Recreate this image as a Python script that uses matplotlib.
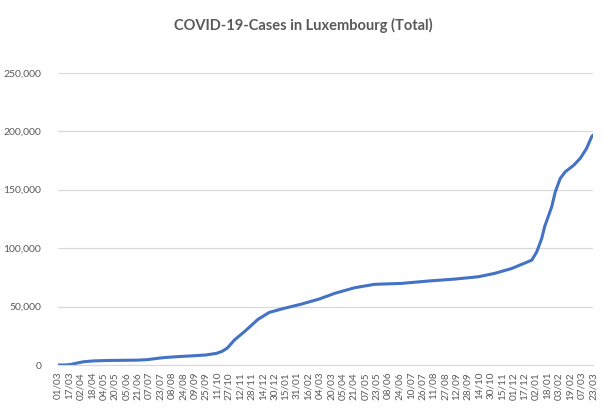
import matplotlib
matplotlib.use("Agg")
import matplotlib.pyplot as plt
import matplotlib.dates as mdates
import matplotlib.ticker as mticker
import pandas as pd

# cumulative cases
dates = [
    "2020-03-01", "2020-03-10", "2020-03-18", "2020-03-26", "2020-04-06",
    "2020-04-20", "2020-05-10", "2020-06-01", "2020-06-20", "2020-07-05",
    "2020-07-20", "2020-07-31", "2020-08-20", "2020-09-10", "2020-09-25",
    "2020-10-10", "2020-10-18", "2020-10-25", "2020-11-04", "2020-11-18",
    "2020-12-07", "2020-12-23", "2021-01-13", "2021-02-05", "2021-03-03",
    "2021-03-25", "2021-04-22", "2021-05-20", "2021-06-27", "2021-08-03",
    "2021-09-10", "2021-10-13", "2021-11-05", "2021-11-29", "2021-12-27",
    "2022-01-03", "2022-01-10", "2022-01-14", "2022-01-19", "2022-01-24",
    "2022-01-29", "2022-02-05", "2022-02-12", "2022-02-24", "2022-03-05",
    "2022-03-14", "2022-03-21", "2022-03-23",
]
cases = [
    0, 5, 350, 1450, 2800,
    3500, 3880, 4020, 4150, 4600,
    5800, 6500, 7300, 8000, 8600,
    10000, 11800, 14500, 21400, 28500,
    39000, 45000, 48500, 51900, 56400,
    61300, 66100, 69000, 69800, 71800,
    73500, 75500, 78400, 82600, 89700,
    96800, 108300, 118200, 126800, 135300,
    148100, 159600, 165200, 170900, 176700,
    185200, 195100, 196500,
]

title = "COVID-19-Cases in Luxembourg (Total)"
y_ticks = [0, 50000, 100000, 150000, 200000, 250000]

x = pd.to_datetime(dates)
tick_dates = pd.date_range(x[0], x[-1], freq="16D")

grey = "#595959"

fig = plt.figure(figsize=(6.06, 4.11), dpi=100)
ax = fig.add_axes([0.0957, 0.1119, 0.8828, 0.7112])

ax.plot(x, cases, color="#4472C4", lw=2.2, solid_capstyle="round")

ax.set_xlim(x[0], x[-1])
ax.set_ylim(0, 250000)
ax.set_yticks(y_ticks)
ax.yaxis.set_major_formatter(mticker.FuncFormatter(lambda v, p: f"{int(v):,}"))
ax.set_xticks(tick_dates)
ax.xaxis.set_major_formatter(mdates.DateFormatter("%d/%m"))

ax.grid(axis="y", color="#D9D9D9", lw=0.9)
ax.set_axisbelow(True)
for side in ["left", "right", "top"]:
    ax.spines[side].set_visible(False)
ax.spines["bottom"].set_color("#D9D9D9")
ax.tick_params(length=0, colors=grey)
ax.tick_params(axis="y", pad=12, labelsize=7.5)
ax.tick_params(axis="x", pad=5, labelsize=7.2, rotation=90)
for lab in ax.get_xticklabels() + ax.get_yticklabels():
    lab.set_family("Lato")

fig.text(0.5, 0.939, title, ha="center", va="center", fontsize=10.5,
         fontweight="bold", color=grey, family="Lato")

fig.savefig("out.png", dpi=100, facecolor="white")
